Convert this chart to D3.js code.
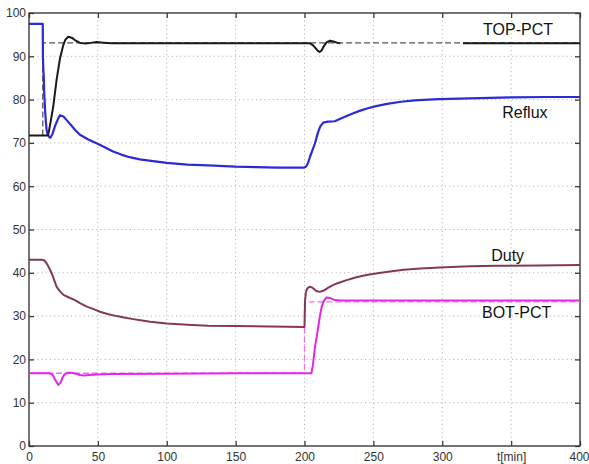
<!DOCTYPE html>
<html>
<head>
<meta charset="utf-8">
<script src="https://cdn.jsdelivr.net/npm/d3@7"></script>
<style>
  html, body { margin: 0; padding: 0; background: #fff; }
  svg { display: block; font-family: "Liberation Sans", Arial, sans-serif; }
</style>
</head>
<body>
<svg id="chart" width="589" height="464"></svg>
<script>
// Time axis [min] and value axis ticks
const xTicks = [0, 50, 100, 150, 200, 250, 300, 350, 400];
const xTickLabels = ["0", "50", "100", "150", "200", "250", "300", "t[min]", "400"];
const yTicks = [0, 10, 20, 30, 40, 50, 60, 70, 80, 90, 100];

// TOP-PCT measured (gap between the two pieces)
const topTime = [0, 13, 14, 15.5, 17.6, 20, 22.5, 24.9, 26.5, 28.5, 31, 34, 37, 41, 45, 49, 54, 60, 100, 150, 200, 204, 206, 208, 209.5, 211, 212.5, 214, 216, 218.5, 221, 224, 226,
                 null, 315, 350, 400];
const topValue = [71.7, 71.7, 71.9, 74.5, 78.4, 84.5, 89.5, 92.6, 93.9, 94.5, 94.3, 93.6, 93.1, 92.95, 93.1, 93.3, 93.15, 93.0, 93.0, 93.0, 93.0, 93.0, 92.6, 91.9, 91.3, 91.0, 91.4, 92.3, 93.2, 93.6, 93.4, 93.1, 93.0,
                  null, 93.0, 93.0, 93.0];
// TOP-PCT setpoint
const topSpTime = [10, 10, 400];
const topSpValue = [71.7, 93.1, 93.1];

// Reflux
const refluxTime = [0, 10, 10.1, 10.4, 10.7, 11, 11.3, 11.7, 12.2, 12.8, 13.5, 14.5, 15.5, 17, 19, 21, 22.5, 25, 27.5, 30, 33.5, 37, 43, 49, 55, 61, 67, 73, 80.5, 90, 100, 115, 130, 150, 165, 180, 199.6,
                    201, 202.5, 204, 206, 207.6, 209, 210, 211.5, 213.6, 217, 222, 226, 230.6, 235, 240, 246, 252, 260, 270, 280, 290, 298, 320, 350, 375, 400];
const refluxValue = [97.5, 97.5, 90, 87, 85.5, 82, 80, 77.5, 75, 73, 72, 71.4, 71.2, 72, 74, 75.5, 76.4, 76.1, 75.2, 74.3, 73, 71.9, 70.8, 69.9, 69, 68, 67.3, 66.7, 66.2, 65.8, 65.4, 65.0, 64.8, 64.5, 64.4, 64.3, 64.3,
                     64.5, 65.3, 66.8, 68.5, 69.9, 71.5, 72.6, 73.8, 74.7, 74.9, 75.0, 75.6, 76.2, 76.8, 77.4, 78.0, 78.5, 79.0, 79.5, 79.8, 80.0, 80.1, 80.3, 80.5, 80.6, 80.6];

// Duty
const dutyTime = [0, 9, 11, 12.8, 14.5, 16.5, 18.3, 20, 22.5, 25, 29, 33.4, 37, 42, 47, 51.5, 57, 63.7, 70, 75.7, 82, 88, 100, 115, 130, 150, 175, 200,
                  200.4, 201, 202, 204, 206, 208.5, 211, 214, 217, 221, 225, 230.6, 237, 245, 253, 262, 272, 284, 298, 320, 340, 370, 400];
const dutyValue = [43.0, 43.0, 42.9, 42.2, 41.2, 39.9, 38.3, 36.8, 35.7, 34.9, 34.3, 33.7, 33.0, 32.2, 31.6, 31.0, 30.5, 30.0, 29.6, 29.3, 29.0, 28.7, 28.3, 28.0, 27.8, 27.7, 27.6, 27.5,
                   33.5, 35.5, 36.4, 36.8, 36.5, 35.8, 35.6, 35.9, 36.5, 37.2, 37.7, 38.3, 38.9, 39.5, 39.9, 40.3, 40.7, 41.0, 41.2, 41.5, 41.6, 41.7, 41.8];

// BOT-PCT measured
const botTime = [0, 15, 17, 19, 21.3, 23, 24.5, 26, 28, 31, 34, 37, 40, 44, 50, 60, 100, 150, 205, 206, 207.6, 209, 210, 211.2, 212.5, 214, 216, 218.5, 222, 226, 230.6, 260, 300, 400];
const botValue = [16.8, 16.8, 16.5, 15.3, 14.1, 14.7, 15.9, 16.6, 16.9, 16.9, 16.7, 16.4, 16.3, 16.4, 16.5, 16.6, 16.7, 16.8, 16.8, 18.5, 22.9, 25.5, 27.6, 30.0, 32.2, 33.5, 34.3, 34.2, 33.7, 33.6, 33.6, 33.6, 33.6, 33.6];
// BOT-PCT setpoint
const botSpTime = [0, 200, 200, 400];
const botSpValue = [16.8, 16.8, 33.3, 33.3];

// Curve labels
const labelNames = ["TOP-PCT", "Reflux", "Duty", "BOT-PCT"];
const labelTime = [355, 360, 347.5, 354];
const labelValue = [94.9, 75.7, 42.7, 29.6];

const svg = d3.select("#chart");
const x = d3.scaleLinear().domain([0, 400]).range([29, 580]);
const y = d3.scaleLinear().domain([0, 100]).range([446, 13]);

const zip = (ts, vs) => ts.map((t, i) => [t, vs[i]]);
const line = d3.line()
  .defined(d => d[0] !== null && d[1] !== null)
  .x(d => x(d[0])).y(d => y(d[1]));

// dotted grid
const grid = svg.append("g").attr("stroke", "#b5b5b5").attr("stroke-width", 1).attr("stroke-dasharray", "1.2,3");
grid.selectAll("line.v").data(xTicks.slice(1, -1)).join("line")
  .attr("x1", d => x(d)).attr("x2", d => x(d)).attr("y1", y(0)).attr("y2", y(100));
grid.selectAll("line.h").data(yTicks.slice(1, -1)).join("line")
  .attr("y1", d => y(d)).attr("y2", d => y(d)).attr("x1", x(0)).attr("x2", x(400));

// axes with inward ticks on all four sides
const axColor = "#3a3a3a";
function styleAxis(g, showText) {
  g.select(".domain").remove();
  g.selectAll(".tick line").attr("stroke", axColor).attr("stroke-width", 1.3);
  g.selectAll(".tick text").attr("fill", "#333").style("font-size", "12px")
    .style("display", showText ? null : "none");
}
svg.append("g").attr("transform", `translate(0,${y(0)})`)
  .call(d3.axisBottom(x).tickValues(xTicks).tickSize(-5).tickPadding(6)
    .tickFormat((d, i) => xTickLabels[i]))
  .call(g => styleAxis(g, true))
  // keep the last label inside the page edge
  .call(g => g.selectAll(".tick text").filter(d => d === 400)
    .attr("text-anchor", "end").attr("x", 589 - x(400)));
svg.append("g").attr("transform", `translate(0,${y(100)})`)
  .call(d3.axisTop(x).tickValues(xTicks).tickSize(-5))
  .call(g => styleAxis(g, false));
svg.append("g").attr("transform", `translate(${x(0)},0)`)
  .call(d3.axisLeft(y).tickValues(yTicks).tickSize(-5).tickPadding(3).tickFormat(d3.format("d")))
  .call(g => styleAxis(g, true));
svg.append("g").attr("transform", `translate(${x(400)},0)`)
  .call(d3.axisRight(y).tickValues(yTicks).tickSize(-5))
  .call(g => styleAxis(g, false));

svg.append("rect")
  .attr("x", x(0)).attr("y", y(100))
  .attr("width", x(400) - x(0)).attr("height", y(0) - y(100))
  .attr("fill", "none").attr("stroke", axColor).attr("stroke-width", 1.4);

// setpoints (dashed)
const plot = svg.append("g").attr("fill", "none").attr("stroke-linejoin", "round");
plot.append("path").datum(zip(topSpTime, topSpValue)).attr("d", line)
  .attr("stroke", "#555").attr("stroke-width", 1.3).attr("stroke-dasharray", "6,3");
plot.append("path").datum(zip(botSpTime, botSpValue)).attr("d", line)
  .attr("stroke", "#f070f0").attr("stroke-width", 1.3).attr("stroke-dasharray", "6,3");

// measured curves
plot.append("path").datum(zip(dutyTime, dutyValue)).attr("d", line)
  .attr("stroke", "#83385a").attr("stroke-width", 2);
plot.append("path").datum(zip(botTime, botValue)).attr("d", line)
  .attr("stroke", "#e626e6").attr("stroke-width", 2);
plot.append("path").datum(zip(refluxTime, refluxValue)).attr("d", line)
  .attr("stroke", "#2b2bd6").attr("stroke-width", 2.2);
plot.append("path").datum(zip(topTime, topValue)).attr("d", line)
  .attr("stroke", "#1a1a1a").attr("stroke-width", 2);

// curve labels
svg.append("g").selectAll("text").data(labelNames).join("text")
  .attr("x", (d, i) => x(labelTime[i]))
  .attr("y", (d, i) => y(labelValue[i]))
  .attr("text-anchor", "middle")
  .attr("fill", "#111")
  .style("font-size", "16px")
  .text(d => d);
</script>
</body>
</html>
